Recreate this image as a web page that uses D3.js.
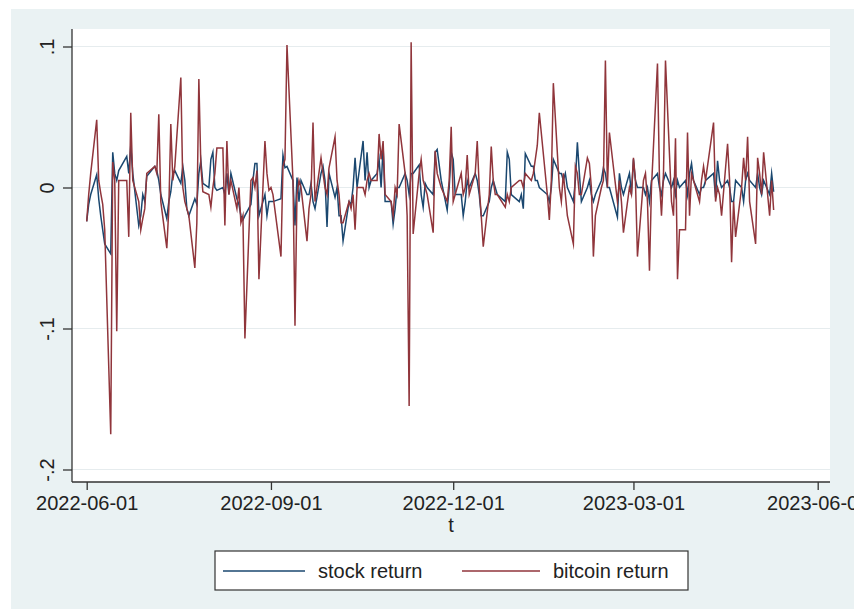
<!DOCTYPE html>
<html>
<head>
<meta charset="utf-8">
<script src="https://cdn.jsdelivr.net/npm/d3@7"></script>
<style>
  html, body { margin: 0; padding: 0; background: #ffffff; }
  svg { display: block; font-family: "Liberation Sans", Arial, Helvetica, sans-serif; }
</style>
</head>
<body>
<svg id="chart" width="854" height="613"></svg>
<script>
// Trading sessions, grouped by month (day-of-month numbers)
const sessionMonths = ["2022-06","2022-07","2022-08","2022-09","2022-10","2022-11","2022-12","2023-01","2023-02","2023-03","2023-04","2023-05"];
const sessionDays = [
  [1,2,3,6,7,8,9,10,13,14,15,16,17,21,22,23,24,27,28,29,30],
  [1,5,6,7,8,11,12,13,14,15,18,19,20,21,22,25,26,27,28,29],
  [1,2,3,4,5,8,9,10,11,12,15,16,17,18,19,22,23,24,25,26,29,30,31],
  [1,2,6,7,8,9,12,13,14,15,16,19,20,21,22,23,26,27,28,29,30],
  [3,4,5,6,7,10,11,12,13,14,17,18,19,20,21,24,25,26,27,28,31],
  [1,2,3,4,7,8,9,10,11,14,15,16,17,18,21,22,23,25,28,29,30],
  [1,2,5,6,7,8,9,12,13,14,15,16,19,20,21,22,23,27,28,29,30],
  [3,4,5,6,9,10,11,12,13,17,18,19,20,23,24,25,26,27,30,31],
  [1,2,3,6,7,8,9,10,13,14,15,16,17,21,22,23,24,27,28],
  [1,2,3,6,7,8,9,10,13,14,15,16,17,20,21,22,23,24,27,28,29,30,31],
  [3,4,5,6,10,11,12,13,14,17,18,19,20,21,24,25,26,27,28],
  [1,2,3,4,5,8,9,10]
];

// Daily returns, one value per session
const stockReturn = [
  -0.024,-0.012,-0.005,0.009,-0.008,-0.02,-0.03,-0.04,-0.047,0.025,0.01,0.005,0.012,0.022,0.01,0.03,0.01,-0.027,-0.02,-0.005,-0.01,
  0.008,0.015,0.012,0.005,-0.005,-0.022,-0.01,-0.003,0.01,0.012,0.003,0.015,0.005,-0.015,-0.02,-0.008,-0.012,0.01,0.019,0.003,
  0.0,0.02,0.025,0.0,-0.002,0.0,-0.005,0.01,-0.005,0.01,-0.008,-0.012,-0.02,-0.023,-0.02,-0.012,0.005,0.017,0.017,-0.02,-0.005,-0.02,-0.01,
  -0.01,-0.01,-0.008,0.023,0.014,0.015,0.005,-0.027,0.007,-0.01,0.005,-0.005,-0.005,0.003,-0.01,-0.015,0.01,0.015,0.005,-0.028,0.01,
  -0.007,0.0,-0.02,-0.02,-0.038,-0.01,-0.012,0.0,0.021,0.0,0.033,0.005,0.025,0.0,0.005,0.01,0.02,0.0,0.029,-0.01,-0.01,
  -0.026,-0.015,0.0,0.0,0.01,0.005,-0.005,0.01,0.01,0.016,-0.005,-0.014,0.003,0.0,-0.005,0.025,0.027,0.005,-0.016,0.0,0.025,
  0.02,-0.005,-0.005,-0.02,-0.01,0.005,0.0,0.01,0.005,-0.005,-0.02,-0.02,-0.01,0.0,0.005,0.0,-0.005,-0.01,0.025,0.02,-0.005,
  -0.01,-0.005,-0.015,0.024,0.015,0.015,0.005,0.005,0.0,-0.005,-0.01,0.0,0.02,0.01,0.01,0.005,0.01,0.0,-0.01,0.005,
  0.032,0.01,-0.01,0.0,0.005,-0.005,-0.01,-0.005,0.005,0.014,0.01,0.0,0.0,-0.021,0.01,0.0,-0.005,0.01,-0.005,
  0.02,0.005,0.0,0.0,-0.005,0.0,-0.01,0.005,0.01,0.0,-0.005,0.005,0.01,0.0,0.005,-0.005,0.005,0.0,0.005,-0.005,0.01,0.017,0.005,
  -0.005,0.0,0.0,0.005,0.01,-0.007,0.019,0.005,0.0,0.005,0.0,-0.01,-0.01,0.005,0.0,-0.01,0.005,0.01,0.005,
  0.0,0.01,0.0,-0.005,0.005,-0.005,0.01,-0.003
];
const bitcoinReturn = [
  -0.024,-0.005,0.01,0.048,0.005,-0.004,-0.012,-0.03,-0.175,0.018,0.005,-0.102,0.005,0.005,-0.035,0.053,0.005,-0.01,-0.03,-0.022,-0.015,
  0.01,0.015,0.01,0.052,-0.01,-0.043,-0.015,0.045,0.005,0.015,0.078,0.0,-0.01,-0.015,-0.02,-0.057,-0.025,0.077,0.015,-0.003,
  -0.005,-0.014,0.0,0.01,0.028,0.028,-0.027,0.033,-0.005,0.005,-0.015,0.0,-0.025,-0.02,-0.107,0.005,0.007,0.0,0.012,-0.065,0.033,0.01,-0.002,
  0.0,-0.005,-0.049,0.015,0.02,0.101,0.005,-0.098,-0.005,0.005,0.0,-0.038,-0.015,-0.005,0.046,-0.01,0.021,0.01,0.0,-0.005,0.014,
  0.036,0.005,-0.005,-0.025,-0.025,-0.01,-0.015,-0.005,-0.03,0.0,0.0,-0.005,0.005,0.01,0.005,0.005,0.038,0.02,0.033,-0.005,-0.01,
  -0.02,0.0,-0.005,0.045,0.01,-0.02,-0.155,0.103,-0.033,0.01,0.02,0.005,0.0,-0.005,-0.032,0.026,0.01,0.0,-0.01,0.005,0.043,
  -0.01,-0.005,0.01,-0.005,0.0,0.023,-0.005,0.01,0.033,0.0,-0.02,-0.042,-0.005,0.029,0.005,-0.005,-0.005,-0.014,-0.005,-0.01,0.0,
  0.005,0.005,0.0,0.01,0.005,0.01,0.02,0.03,0.053,-0.005,-0.023,0.005,0.074,0.0,-0.01,0.01,-0.005,-0.02,-0.04,0.015,
  0.01,-0.005,-0.005,0.021,0.017,0.0,-0.049,-0.02,0.0,0.005,0.09,0.0,0.039,-0.01,0.005,-0.01,-0.032,0.0,-0.005,
  0.021,0.005,-0.049,0.005,0.01,-0.01,-0.059,0.0,0.088,0.005,-0.02,0.01,0.09,-0.01,-0.02,0.035,-0.065,-0.03,-0.03,0.039,-0.02,0.01,0.005,
  -0.01,0.005,0.015,0.005,0.046,-0.01,0.0,-0.005,-0.02,0.031,0.005,-0.053,-0.01,-0.035,0.0,0.021,0.005,0.036,-0.01,
  -0.04,0.021,0.01,-0.005,0.025,-0.02,0.005,-0.016
];

const yTicks = [0.1, 0, -0.1, -0.2];
const yTickLabels = [".1", "0", "-.1", "-.2"];
const xTicks = ["2022-06-01", "2022-09-01", "2022-12-01", "2023-03-01", "2023-06-01"];
const xTitle = "t";
const seriesNames = ["stock return", "bitcoin return"];
const seriesColors = ["#1a476f", "#90353b"];

// Build the date list from the session calendar
const parseDay = d3.utcParse("%Y-%m-%d");
const dates = [];
sessionMonths.forEach((m, i) => {
  sessionDays[i].forEach(day => dates.push(parseDay(m + "-" + String(day).padStart(2, "0"))));
});
const rows = dates.map((d, i) => ({ date: d, stock: stockReturn[i], bitcoin: bitcoinReturn[i] }));

const svg = d3.select("#chart");
const W = 854, H = 613;

// Graph region background
svg.append("rect").attr("x", 11).attr("y", 9).attr("width", W - 11).attr("height", 600)
  .attr("fill", "#eaf2f3");

// Plot region
const plot = { left: 72, right: 830, top: 29, bottom: 482 };
svg.append("rect")
  .attr("x", plot.left).attr("y", plot.top)
  .attr("width", plot.right - plot.left).attr("height", plot.bottom - plot.top)
  .attr("fill", "#ffffff");

const x = d3.scaleUtc()
  .domain([parseDay(xTicks[0]), parseDay(xTicks[xTicks.length - 1])])
  .range([86.7, 817.7]);
const y = d3.scaleLinear().domain([-0.2, 0.1]).range([469.5, 46.5]);

// Horizontal grid lines
svg.append("g").selectAll("line").data(yTicks).join("line")
  .attr("x1", plot.left).attr("x2", plot.right)
  .attr("y1", d => y(d)).attr("y2", d => y(d))
  .attr("stroke", "#e6ecee").attr("stroke-width", 1.2);

// Series lines
const series = [
  { key: "stock", color: seriesColors[0] },
  { key: "bitcoin", color: seriesColors[1] }
];
series.forEach(s => {
  const line = d3.line().x(d => x(d.date)).y(d => y(d[s.key]));
  svg.append("path").datum(rows)
    .attr("d", line)
    .attr("fill", "none")
    .attr("stroke", s.color)
    .attr("stroke-width", 1.5)
    .attr("stroke-linejoin", "miter")
    .attr("stroke-miterlimit", 10);
});

// Y axis
const yAxis = d3.axisLeft(y).tickValues(yTicks).tickSize(9).tickPadding(4)
  .tickFormat((d, i) => yTickLabels[i]);
const gy = svg.append("g").attr("transform", `translate(${plot.left},0)`).call(yAxis);
gy.select(".domain").attr("d", `M0,${plot.top}V${plot.bottom}`).attr("stroke", "#333").attr("stroke-width", 1.3);
gy.selectAll(".tick line").attr("stroke", "#333").attr("stroke-width", 1.3);
gy.selectAll(".tick text")
  .attr("font-size", 20).attr("fill", "#222")
  .attr("text-anchor", "middle")
  .attr("x", null).attr("dy", null)
  .attr("transform", "translate(-18,0) rotate(-90)");

// X axis
const xAxis = d3.axisBottom(x).tickValues(xTicks.map(parseDay)).tickSize(8).tickPadding(6)
  .tickFormat(d3.utcFormat("%Y-%m-%d"));
const gx = svg.append("g").attr("transform", `translate(0,${plot.bottom})`).call(xAxis);
gx.select(".domain").attr("d", `M${plot.left},0H${plot.right}`).attr("stroke", "#333").attr("stroke-width", 1.3);
gx.selectAll(".tick line").attr("stroke", "#333").attr("stroke-width", 1.3);
gx.selectAll(".tick text").attr("font-size", 20).attr("fill", "#222");

// Axis title
svg.append("text").attr("x", (plot.left + plot.right) / 2).attr("y", 532)
  .attr("text-anchor", "middle").attr("font-size", 20).attr("fill", "#222").text(xTitle);

// Legend
const lg = svg.append("g");
lg.append("rect").attr("x", 215).attr("y", 551).attr("width", 473).attr("height", 39)
  .attr("fill", "#ffffff").attr("stroke", "#333").attr("stroke-width", 1.2);
const legendItems = [
  { name: seriesNames[0], color: seriesColors[0], x0: 223, x1: 305, tx: 318 },
  { name: seriesNames[1], color: seriesColors[1], x0: 462, x1: 540, tx: 553 }
];
legendItems.forEach(it => {
  lg.append("line").attr("x1", it.x0).attr("x2", it.x1).attr("y1", 571).attr("y2", 571)
    .attr("stroke", it.color).attr("stroke-width", 1.5);
  lg.append("text").attr("x", it.tx).attr("y", 578).attr("font-size", 20).attr("fill", "#222").text(it.name);
});
</script>
</body>
</html>
